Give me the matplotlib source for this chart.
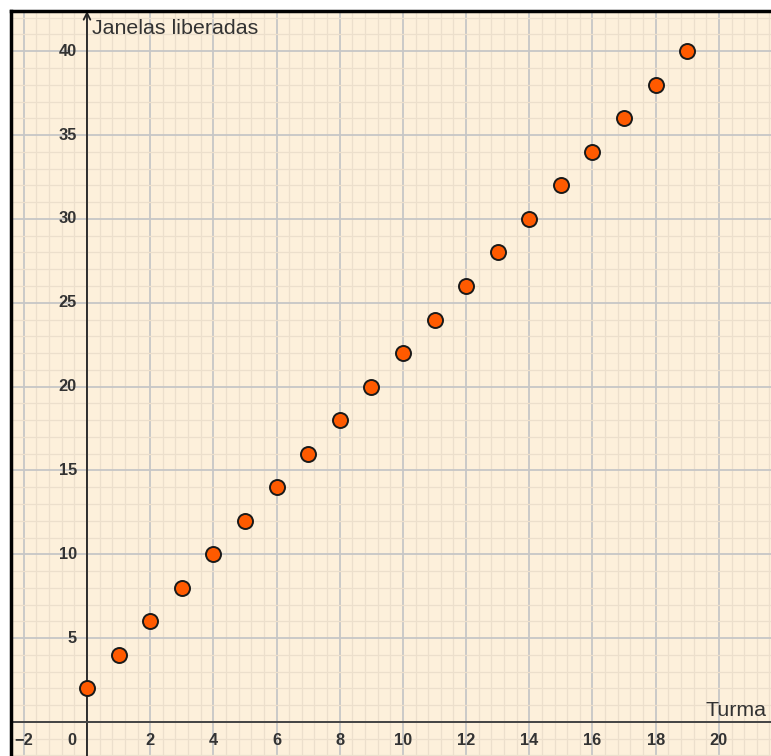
import matplotlib.pyplot as plt
from matplotlib.ticker import MultipleLocator

# data
turma = list(range(0, 20))
janelas = [2, 4, 6, 8, 10, 12, 14, 16, 18, 20, 22, 24, 26, 28, 30, 32, 34, 36, 38, 40]
x_ticks = [-2, 2, 4, 6, 8, 10, 12, 14, 16, 18, 20]
y_ticks = [5, 10, 15, 20, 25, 30, 35, 40]

plt.rcParams['font.family'] = ['Liberation Sans', 'DejaVu Sans']

fig = plt.figure(figsize=(7.71, 7.56), dpi=100)
ax = fig.add_axes([11 / 771, 0, 760 / 771, 745 / 756])
ax.set_facecolor('#fdf0db')

xmin, xmax = -2.405, 21.65
ymin, ymax = -2.03, 42.4
ax.set_xlim(xmin, xmax)
ax.set_ylim(ymin, ymax)

# grid
ax.xaxis.set_major_locator(MultipleLocator(2))
ax.xaxis.set_minor_locator(MultipleLocator(0.4))
ax.yaxis.set_major_locator(MultipleLocator(5))
ax.yaxis.set_minor_locator(MultipleLocator(1))
ax.grid(which='minor', color='#ecdfcc', lw=0.9, zorder=0)
ax.grid(which='major', color='#c6c6c6', lw=1.3, zorder=0)
ax.set_axisbelow(True)
ax.tick_params(which='both', length=0, labelbottom=False, labelleft=False)

for s in ['right', 'bottom']:
    ax.spines[s].set_visible(False)
for s in ['top', 'left']:
    ax.spines[s].set_linewidth(2.5)
    ax.spines[s].set_color('black')

# axes lines
ax.annotate('', xy=(0, ymax), xytext=(0, ymin),
            arrowprops=dict(arrowstyle='->', color='#222222', lw=1.3, mutation_scale=12,
                            shrinkA=0, shrinkB=0), zorder=2)
ax.axhline(0, color='#444444', lw=1.4, zorder=2)

# tick labels
for v in x_ticks:
    lbl = str(v).replace('-', '\u2212')
    ax.text(v, -1.08, lbl, ha='center', va='center', fontsize=11.8,
            fontweight='bold', color='#333333')
ax.text(-0.47, -1.08, '0', ha='center', va='center', fontsize=11.8,
        fontweight='bold', color='#333333')
for v in y_ticks:
    ax.text(-0.32, v, str(v), ha='right', va='center', fontsize=11.8,
            fontweight='bold', color='#333333')

# axis titles
ax.text(0.16, 41.35, 'Janelas liberadas', ha='left', va='center', fontsize=15.4,
        color='#333333')
ax.text(21.52, 0.68, 'Turma', ha='right', va='center', fontsize=15.4,
        color='#333333')

# points
ax.plot(turma, janelas, 'o', ms=10.8, mfc='#ff5a00', mec='#1a1a1a', mew=1.4,
        zorder=5, clip_on=False)

fig.savefig('out.png', dpi=100)
